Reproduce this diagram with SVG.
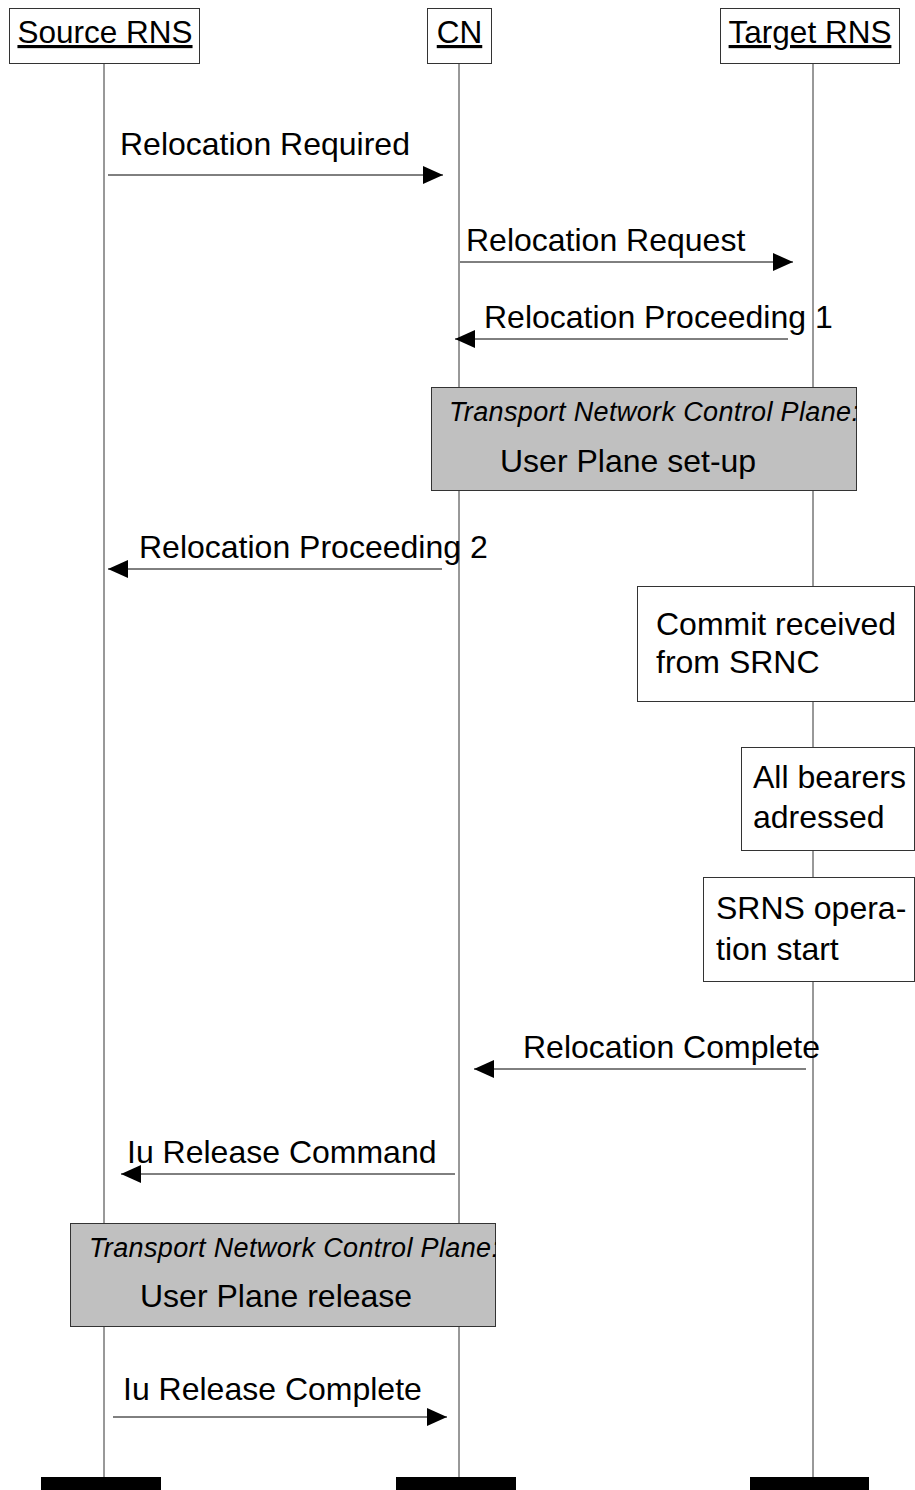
<svg xmlns="http://www.w3.org/2000/svg" width="915" height="1490" viewBox="0 0 915 1490">
<style>
text{font-family:"Liberation Sans",Arial,sans-serif;fill:#000}
.t{font-size:32px}
.h{font-size:31.5px;text-decoration:underline}
.it{font-size:27px;font-style:italic}
.box{fill:#fff;stroke:#333;stroke-width:1}
.gray{fill:#c0c0c0;stroke:#333;stroke-width:1}
.life{stroke:#333;stroke-width:1}
.msg{stroke:#000;stroke-width:1;fill:none;marker-end:url(#ah)}
.bar{fill:#000}
</style>
<defs>
<marker id="ah" markerUnits="userSpaceOnUse" viewBox="0 0 20 18" refX="20" refY="9" markerWidth="20" markerHeight="18" orient="auto">
<path d="M0,0 L20,9 L0,18 Z" fill="#000"/>
</marker>
<clipPath id="c1"><rect x="431" y="387" width="426" height="104"/></clipPath>
<clipPath id="c2"><rect x="70" y="1223" width="426" height="104"/></clipPath>
</defs>
<g id="lifelines">
<line class="life" x1="104" y1="63" x2="104" y2="1477"/>
<line class="life" x1="459" y1="63" x2="459" y2="1477"/>
<line class="life" x1="813" y1="63" x2="813" y2="1477"/>
</g>
<g id="source-rns">
<rect class="box" x="9.5" y="8.5" width="190" height="55"/>
<text class="h" x="105" y="43" text-anchor="middle">Source RNS</text>
<rect class="bar" x="41" y="1477" width="120" height="13"/>
</g>
<g id="cn">
<rect class="box" x="427.5" y="8.5" width="64" height="55"/>
<text class="h" x="459.5" y="43" text-anchor="middle">CN</text>
<rect class="bar" x="396" y="1477" width="120" height="13"/>
</g>
<g id="target-rns">
<rect class="box" x="720.5" y="8.5" width="179" height="55"/>
<text class="h" x="810" y="43" text-anchor="middle">Target RNS</text>
<rect class="bar" x="750" y="1477" width="119" height="13"/>
</g>
<g id="tncp-setup">
<rect class="gray" x="431.5" y="387.5" width="425" height="103"/>
<text class="it" x="449" y="421" textLength="410" lengthAdjust="spacing" clip-path="url(#c1)">Transport Network Control Plane:</text>
<text class="t" x="500" y="472">User Plane set-up</text>
</g>
<g id="commit-received">
<rect class="box" x="637.5" y="586.5" width="277" height="115"/>
<text class="t" x="656" y="635">Commit received</text>
<text class="t" x="656" y="673">from SRNC</text>
</g>
<g id="all-bearers">
<rect class="box" x="741.5" y="747.5" width="173" height="103"/>
<text class="t" x="753" y="788">All bearers</text>
<text class="t" x="753" y="828">adressed</text>
</g>
<g id="srns-operation">
<rect class="box" x="703.5" y="877.5" width="211" height="104"/>
<text class="t" x="716" y="919">SRNS opera-</text>
<text class="t" x="716" y="960">tion start</text>
</g>
<g id="tncp-release">
<rect class="gray" x="70.5" y="1223.5" width="425" height="103"/>
<text class="it" x="89" y="1257" textLength="410" lengthAdjust="spacing" clip-path="url(#c2)">Transport Network Control Plane:</text>
<text class="t" x="140" y="1307">User Plane release</text>
</g>
<g id="connectors">
<line class="msg" x1="108" y1="175" x2="443" y2="175"/>
<text class="t" x="120" y="155">Relocation Required</text>
<line class="msg" x1="460" y1="262" x2="793" y2="262"/>
<text class="t" x="466" y="251">Relocation Request</text>
<line class="msg" x1="788" y1="339" x2="455" y2="339"/>
<text class="t" x="484" y="328">Relocation Proceeding 1</text>
<line class="msg" x1="442" y1="569" x2="108" y2="569"/>
<text class="t" x="139" y="558">Relocation Proceeding 2</text>
<line class="msg" x1="806" y1="1069" x2="474" y2="1069"/>
<text class="t" x="523" y="1058">Relocation Complete</text>
<line class="msg" x1="455" y1="1174" x2="121" y2="1174"/>
<text class="t" x="127" y="1163">Iu Release Command</text>
<line class="msg" x1="113" y1="1417" x2="447" y2="1417"/>
<text class="t" x="123" y="1400">Iu Release Complete</text>
</g>
</svg>
